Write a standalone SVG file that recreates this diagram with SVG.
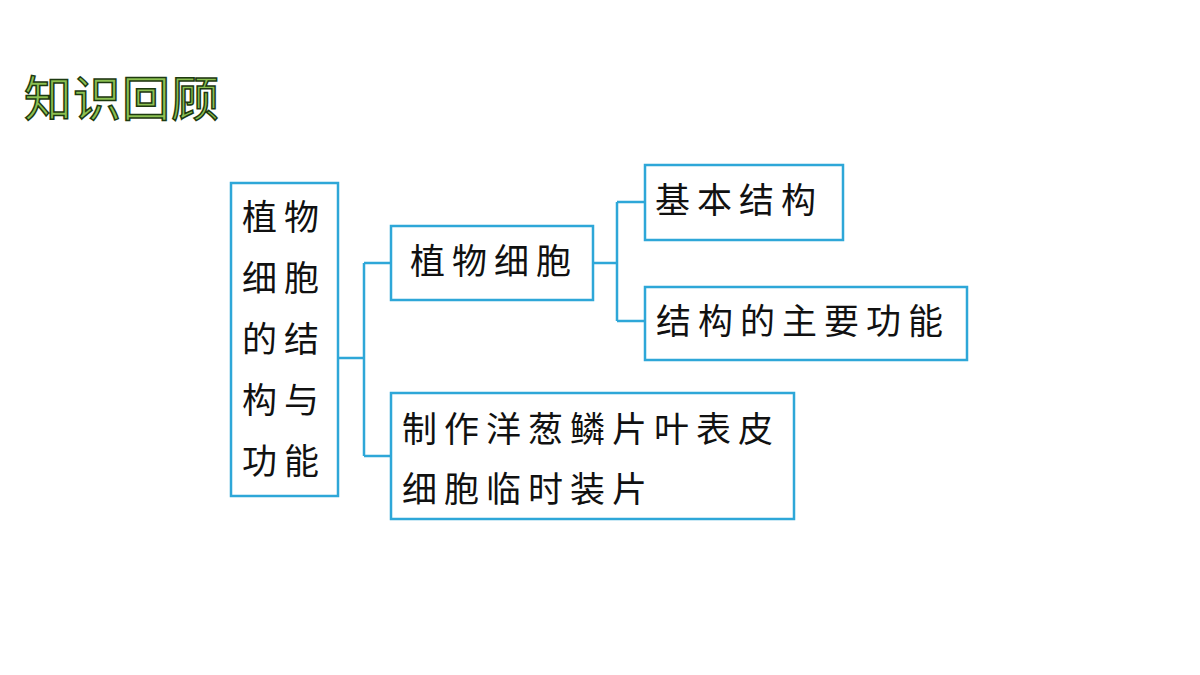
<svg xmlns="http://www.w3.org/2000/svg" width="1200" height="675" viewBox="0 0 1200 675">
<style>
.box{fill:#fff;stroke:#2ea7d8;stroke-width:2.5}
.t{font-family:"Noto Sans CJK SC","Noto Sans",sans-serif;font-size:35px;letter-spacing:7px;fill:#111}
.ln{fill:none;stroke:#2ea7d8;stroke-width:2.5}
.title{font-family:"Noto Sans CJK SC",sans-serif;font-size:48px;letter-spacing:1px;fill:#8cc152;stroke:#1d3a10;stroke-width:1.5}
</style>
<rect width="1200" height="675" fill="#fff"/>
<text class="title" x="24" y="116">知识回顾</text>
<g id="connectors">
<path class="ln" d="M338 358H364M364 263V456M364 263H391M364 456H391"/>
<path class="ln" d="M593 263H617M617 202V321M617 202H645M617 321H645"/>
</g>
<g id="n1"><rect class="box" x="231" y="183" width="107" height="313"/>
<text class="t" x="242" y="230">植物</text><text class="t" x="242" y="291">细胞</text><text class="t" x="242" y="352">的结</text><text class="t" x="242" y="413">构与</text><text class="t" x="242" y="474">功能</text></g>
<g id="n2"><rect class="box" x="391" y="226" width="202" height="74"/><text class="t" x="410" y="274">植物细胞</text></g>
<g id="n3"><rect class="box" x="645" y="165" width="198" height="75"/><text class="t" x="655" y="213">基本结构</text></g>
<g id="n4"><rect class="box" x="645" y="287" width="322" height="73"/><text class="t" x="656" y="334">结构的主要功能</text></g>
<g id="n5"><rect class="box" x="391" y="393" width="403" height="126"/><text class="t" x="402" y="442">制作洋葱鳞片叶表皮</text><text class="t" x="402" y="502">细胞临时装片</text></g>
</svg>
